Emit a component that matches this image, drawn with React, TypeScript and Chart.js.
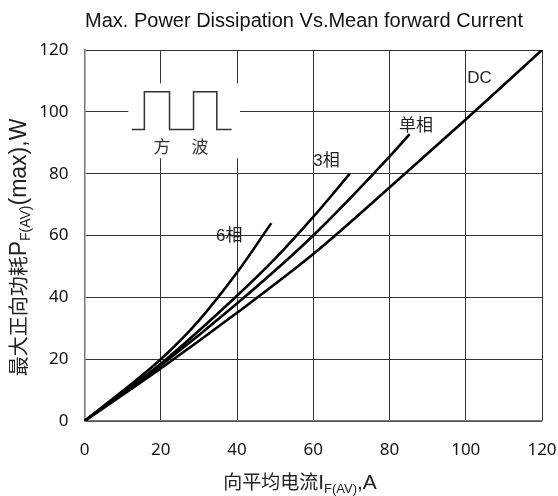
import { useEffect, useRef } from 'react';
import { Chart, registerables } from 'chart.js';

Chart.register(...registerables);

// ---- data ----
const dcX = [0, 20, 40, 60, 80, 100, 120];
const dcY = [0, 17, 35, 54, 75.5, 97.5, 120];

const singleX = [0, 20, 40, 60, 80, 85.3];
const singleY = [0, 18, 38, 60, 85.5, 92.8];

const threeX = [0, 20, 40, 50, 60, 69.6];
const threeY = [0, 18.5, 40.5, 52.5, 66, 80];

const sixX = [0, 20, 30, 40, 49];
const sixY = [0, 20, 32.5, 48, 64];

const xTickValues = [0, 20, 40, 60, 80, 100, 120];
const yTickValues = [0, 20, 40, 60, 80, 100, 120];

const curveLabels = ['DC', '单相', '3相', '6相'];
const curveLabelX = [100.4, 82.5, 60, 34.5];
const curveLabelY = [110.8, 95.2, 84.1, 59.8];

// inset square wave (in data units)
const waveLow = 94.3;
const waveHigh = 106.5;
const waveX = [12.4, 15.7, 15.7, 22.3, 22.3, 28.6, 28.6, 34.7, 34.7, 38.6];
const waveY = [waveLow, waveLow, waveHigh, waveHigh, waveLow, waveLow, waveHigh, waveHigh, waveLow, waveLow];
const waveTexts = ['方', '波'];
const waveTextX = [20.3, 30.3];
const waveTextY = [88.7, 88.7];

const titleText = 'Max. Power Dissipation Vs.Mean forward Current';

const CJK = '"Noto Sans CJK SC"';
const LAT = '"Liberation Sans"';

type Seg = { text: string; font: string; dy: number };

function drawRich(ctx: CanvasRenderingContext2D, segs: Seg[], cx: number, baseline: number) {
  const widths = segs.map((s) => {
    ctx.font = s.font;
    return ctx.measureText(s.text).width;
  });
  const total = widths.reduce((a, b) => a + b, 0);
  let xp = cx - total / 2;
  ctx.textAlign = 'left';
  ctx.textBaseline = 'alphabetic';
  segs.forEach((s, i) => {
    ctx.font = s.font;
    ctx.fillText(s.text, xp, baseline + s.dy);
    xp += widths[i];
  });
}

const decor = {
  id: 'decor',
  beforeDatasetsDraw(chart: any) {
    const { ctx, scales } = chart;
    const X = (v: number) => scales.x.getPixelForValue(v);
    const Y = (v: number) => scales.y.getPixelForValue(v);
    ctx.save();
    ctx.fillStyle = '#ffffff';
    ctx.fillRect(X(11.5), Y(109.2), X(40.8) - X(11.5), Y(85) - Y(109.2));
    ctx.strokeStyle = '#333';
    ctx.lineWidth = 1.5;
    ctx.beginPath();
    waveX.forEach((v, i) => {
      if (i === 0) ctx.moveTo(X(v), Y(waveY[i]));
      else ctx.lineTo(X(v), Y(waveY[i]));
    });
    ctx.stroke();
    ctx.fillStyle = '#333';
    ctx.font = `17px ${CJK}`;
    ctx.textAlign = 'center';
    ctx.textBaseline = 'middle';
    waveTexts.forEach((t, i) => ctx.fillText(t, X(waveTextX[i]), Y(waveTextY[i])));
    ctx.restore();
  },
  afterDraw(chart: any) {
    const { ctx, scales } = chart;
    const X = (v: number) => scales.x.getPixelForValue(v);
    const Y = (v: number) => scales.y.getPixelForValue(v);
    ctx.save();
    // title
    ctx.fillStyle = '#111';
    ctx.font = `20px ${LAT}`;
    ctx.textAlign = 'center';
    ctx.textBaseline = 'alphabetic';
    ctx.fillText(titleText, 304, 27);

    // curve labels
    ctx.font = `17px ${LAT}, ${CJK}`;
    ctx.textAlign = 'left';
    ctx.textBaseline = 'middle';
    ctx.fillStyle = '#222';
    curveLabels.forEach((t, i) => ctx.fillText(t, X(curveLabelX[i]), Y(curveLabelY[i])));

    // x axis title
    ctx.fillStyle = '#222';
    drawRich(
      ctx,
      [
        { text: '向平均电流', font: `19px ${CJK}`, dy: 0 },
        { text: 'I', font: `21px ${LAT}`, dy: 0 },
        { text: 'F(AV)', font: `13px ${LAT}`, dy: 4 },
        { text: ',A', font: `21px ${LAT}`, dy: 0 },
      ],
      300,
      488.5
    );

    // y axis title
    ctx.translate(26, 247.5);
    ctx.rotate(-Math.PI / 2);
    drawRich(
      ctx,
      [
        { text: '最大正向功耗', font: `20px ${CJK}`, dy: 0 },
        { text: 'P', font: `23px ${LAT}`, dy: 0 },
        { text: 'F(AV)', font: `14px ${LAT}`, dy: 4 },
        { text: '(max),W', font: `23px ${LAT}`, dy: 0 },
      ],
      0,
      0
    );
    ctx.restore();
  },
};

function toPoints(xs: number[], ys: number[]) {
  return xs.map((x, i) => ({ x, y: ys[i] }));
}

export default function App() {
  const ref = useRef<HTMLCanvasElement | null>(null);

  useEffect(() => {
    if (!ref.current) return;
    const lineStyle = {
      borderColor: '#000',
      borderWidth: 2.6,
      pointRadius: 0,
      fill: false,
      cubicInterpolationMode: 'monotone' as const,
    };
    const chart = new Chart(ref.current, {
      type: 'line',
      data: {
        datasets: [
          { label: 'DC', data: toPoints(dcX, dcY), ...lineStyle },
          { label: '单相', data: toPoints(singleX, singleY), ...lineStyle },
          { label: '3相', data: toPoints(threeX, threeY), ...lineStyle },
          { label: '6相', data: toPoints(sixX, sixY), ...lineStyle },
        ],
      },
      options: {
        animation: false,
        responsive: false,
        devicePixelRatio: 1,
        layout: { padding: { top: 50, right: 16, left: 0, bottom: 0 } },
        plugins: {
          legend: { display: false },
          title: { display: false },
          tooltip: { enabled: false },
        },
        scales: {
          x: {
            type: 'linear',
            min: 0,
            max: 120,
            afterBuildTicks: (s: any) => {
              s.ticks = xTickValues.map((v) => ({ value: v }));
            },
            afterFit: (s: any) => {
              s.height = 75;
              s.paddingLeft = 0;
              s.paddingRight = 0;
            },
            ticks: {
              font: { family: 'Noto Sans', size: 17 },
              color: '#111',
              padding: 19,
              maxRotation: 0,
            },
            grid: { color: '#333', lineWidth: 1, drawTicks: false },
            border: { color: '#777', width: 1.5 },
          },
          y: {
            type: 'linear',
            min: 0,
            max: 120,
            afterBuildTicks: (s: any) => {
              s.ticks = yTickValues.map((v) => ({ value: v }));
            },
            afterFit: (s: any) => {
              s.width = 84.5;
              s.paddingTop = 0;
              s.paddingBottom = 0;
            },
            ticks: {
              font: { family: 'Noto Sans', size: 17 },
              color: '#111',
              padding: 16,
            },
            grid: { color: '#333', lineWidth: 1, drawTicks: false },
            border: { color: '#777', width: 1.5 },
          },
        },
      },
      plugins: [decor],
    });
    return () => chart.destroy();
  }, []);

  return (
    <div style={{ position: 'fixed', left: 0, top: 0, width: 558, height: 496, background: '#fff' }}>
      <canvas ref={ref} width={558} height={496} style={{ width: 558, height: 496, display: 'block' }} />
    </div>
  );
}
